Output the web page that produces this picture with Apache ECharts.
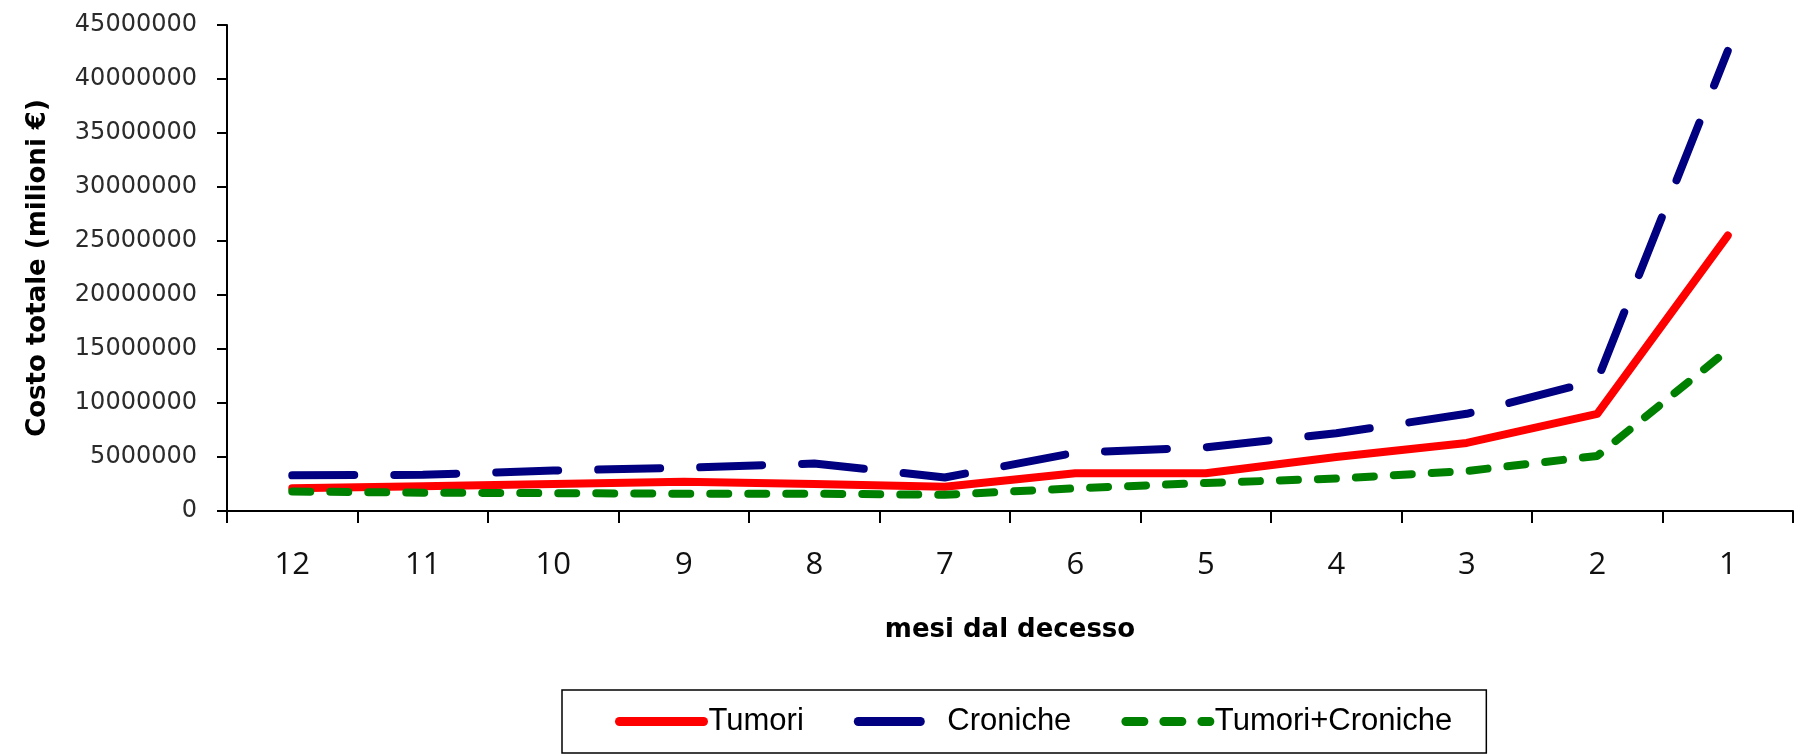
<!DOCTYPE html>
<html>
<head>
<meta charset="utf-8">
<title>Costo totale nei mesi prima del decesso</title>
<script src="https://cdn.jsdelivr.net/npm/echarts@6/dist/echarts.min.js"></script>
<style>
  html, body { margin: 0; padding: 0; background: #ffffff; }
  #chart { width: 1810px; height: 756px; }
</style>
</head>
<body>
<div id="chart"></div>
<script>
// Months before death, from 12 down to 1
const months = ['12', '11', '10', '9', '8', '7', '6', '5', '4', '3', '2', '1'];

// Total cost per month (€)
const tumori = [2100000, 2300000, 2500000, 2700000, 2500000, 2250000, 3500000, 3500000, 5000000, 6300000, 9000000, 25500000];
const croniche = [3300000, 3350000, 3750000, 4000000, 4400000, 3100000, 5400000, 5900000, 7200000, 9000000, 12100000, 42600000];
const tumoriCroniche = [1800000, 1700000, 1650000, 1600000, 1600000, 1500000, 2100000, 2600000, 3000000, 3700000, 5100000, 14900000];

const seriesNames = ['Tumori', 'Croniche', 'Tumori+Croniche'];

// Value axis range
const yMin = 0;
const yMax = 45000000;
const yStep = 5000000;

const axisName = {
  x: 'mesi dal decesso',
  y: 'Costo totale (milioni €)'
};

const chart = echarts.init(document.getElementById('chart'), null, { renderer: 'canvas' });

// Legend entries show only the line sample, no marker
const legendEntry = (name) => ({
  name: name,
  itemStyle: { opacity: 0 },
  lineStyle: { width: 9, cap: 'round' }
});

const option = {
  animation: false,
  backgroundColor: '#ffffff',
  grid: { left: 227, right: 17, top: 25, bottom: 245, containLabel: false },
  xAxis: {
    type: 'category',
    data: months,
    boundaryGap: true,
    name: axisName.x,
    nameLocation: 'middle',
    nameGap: 106,
    nameTextStyle: { fontFamily: 'DejaVu Sans', fontWeight: 'bold', fontSize: 26, color: '#000000' },
    axisLine: { show: true, lineStyle: { color: '#000000', width: 2 } },
    axisTick: { show: true, length: 12, lineStyle: { color: '#000000', width: 2 } },
    axisLabel: { margin: 39, fontFamily: 'Open Sans', fontSize: 31, color: '#111111' },
    splitLine: { show: false }
  },
  yAxis: {
    type: 'value',
    min: yMin,
    max: yMax,
    interval: yStep,
    name: axisName.y,
    nameLocation: 'middle',
    nameGap: 176,
    nameRotate: 90,
    nameTextStyle: { fontFamily: 'DejaVu Sans', fontWeight: 'bold', fontSize: 26, color: '#000000' },
    axisLine: { show: true, lineStyle: { color: '#000000', width: 2 } },
    axisTick: { show: true, length: 10, lineStyle: { color: '#000000', width: 2 } },
    axisLabel: {
      margin: 30,
      fontFamily: 'DejaVu Sans',
      fontSize: 24,
      color: '#2b2b2b',
      formatter: (v) => String(v)
    },
    splitLine: { show: false }
  },
  legend: {
    left: 562,
    top: 690,
    orient: 'horizontal',
    padding: [16, 34, 16, 53],
    itemGap: 50,
    itemWidth: 84,
    itemHeight: 31,
    borderColor: '#000000',
    borderWidth: 1.5,
    borderRadius: 0,
    textStyle: { fontFamily: 'Liberation Sans', fontSize: 31, color: '#000000' },
    data: seriesNames.map(legendEntry)
  },
  series: [
    {
      name: seriesNames[0],
      type: 'line',
      data: tumori,
      symbol: 'none',
      smooth: false,
      lineStyle: { color: '#ff0000', width: 8, type: 'solid', cap: 'round', join: 'round' },
      itemStyle: { color: '#ff0000' },
      z: 3
    },
    {
      name: seriesNames[1],
      type: 'line',
      data: croniche,
      symbol: 'none',
      smooth: false,
      lineStyle: { color: '#000080', width: 8, type: [62, 40], cap: 'round', join: 'round' },
      itemStyle: { color: '#000080' },
      z: 2
    },
    {
      name: seriesNames[2],
      type: 'line',
      data: tumoriCroniche,
      symbol: 'none',
      smooth: false,
      lineStyle: { color: '#008000', width: 8, type: [18, 20], cap: 'round', join: 'round' },
      itemStyle: { color: '#008000' },
      z: 4
    }
  ]
};

chart.setOption(option);
</script>
</body>
</html>
